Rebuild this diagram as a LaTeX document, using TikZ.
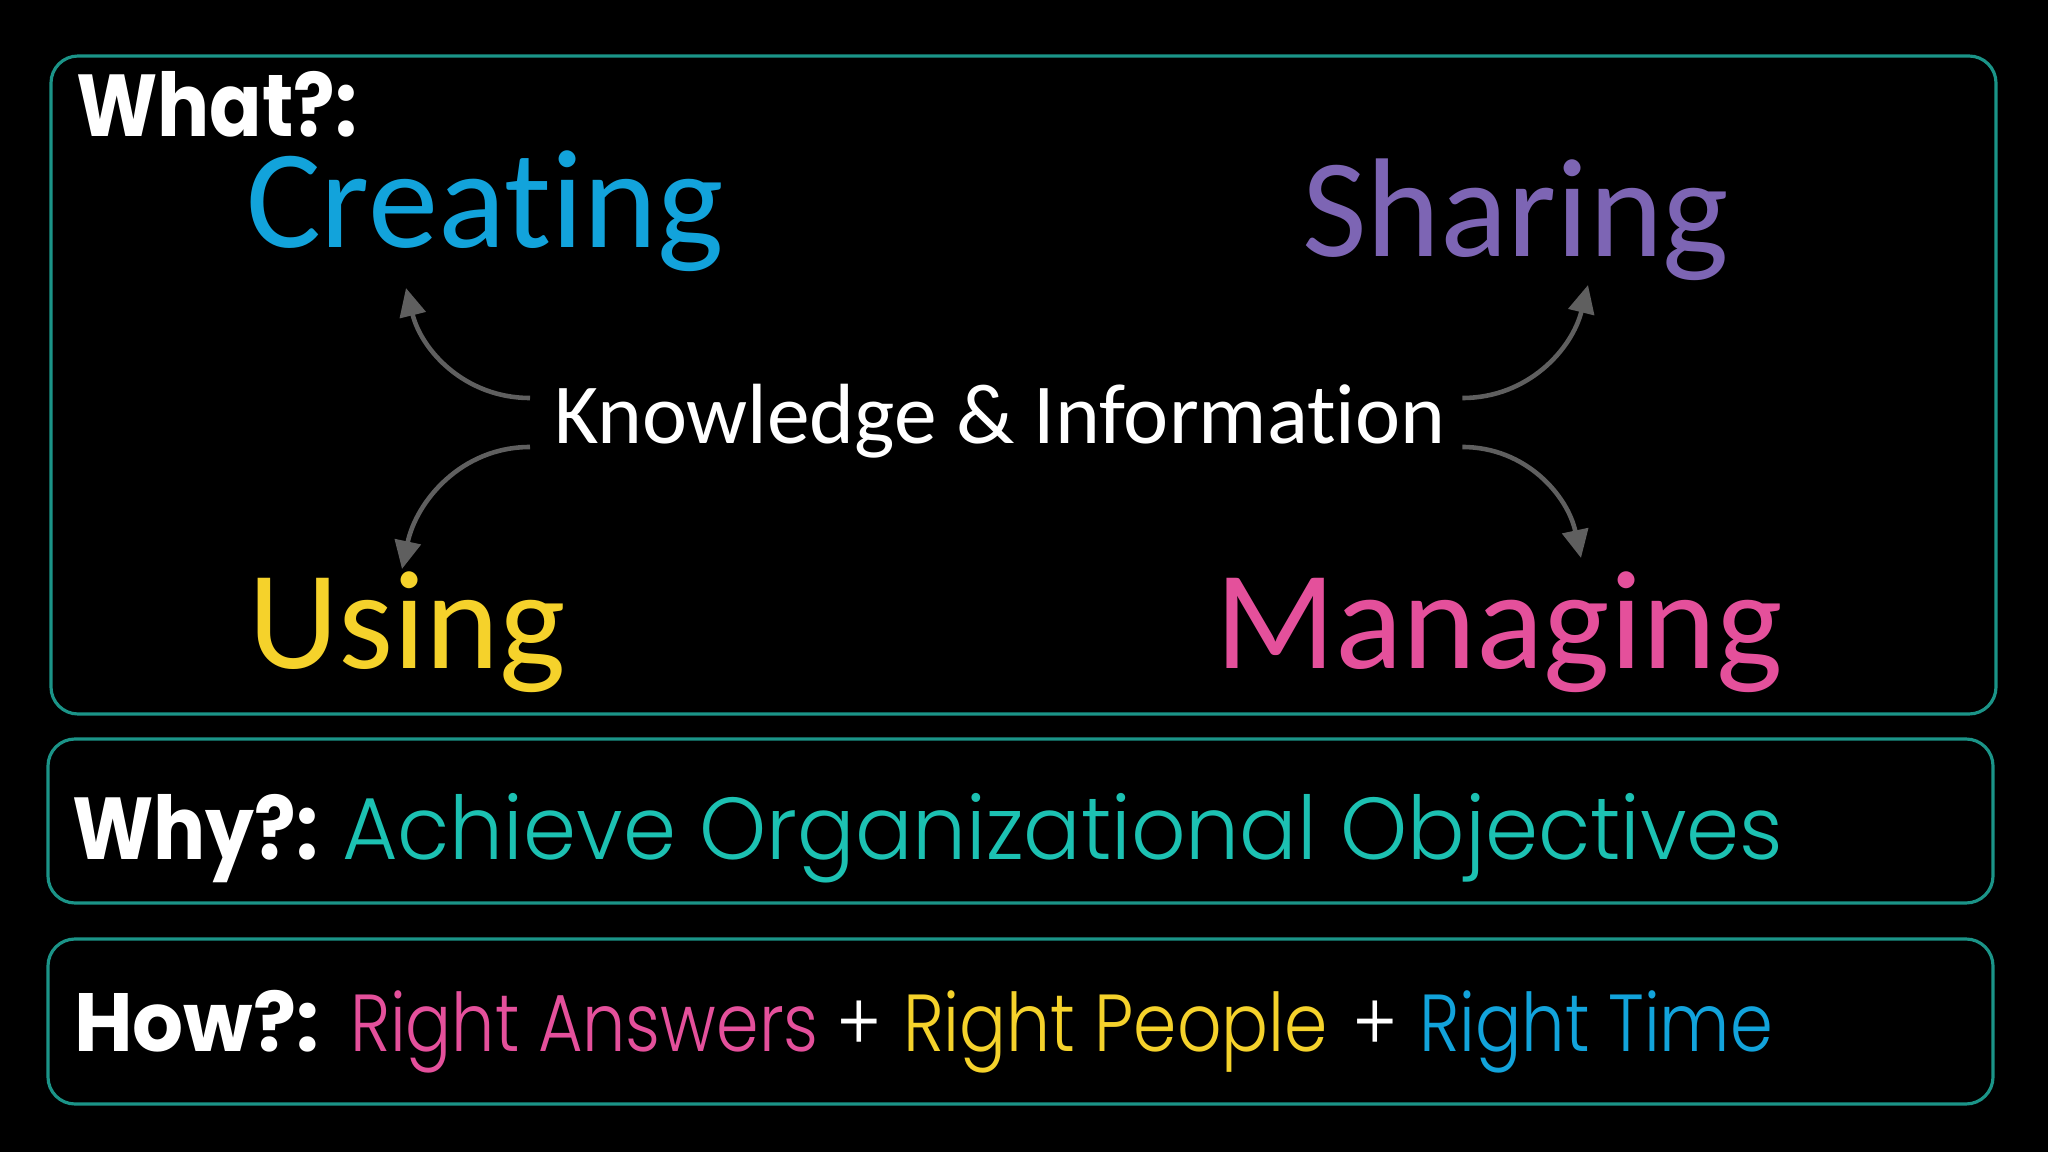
\documentclass[tikz,border=0pt]{standalone}
\usepackage{fontspec}
\setmainfont{Carlito}[Ligatures=NoCommon]
\newfontfamily\gothic{Poppins}
\newfontfamily\gothiclight{Poppins Light}
\usetikzlibrary{arrows.meta,calc}
\definecolor{boxteal}{HTML}{1B9488}
\definecolor{cblue}{HTML}{12A3DB}
\definecolor{cpurple}{HTML}{7D65B4}
\definecolor{cyellow}{HTML}{F5D22B}
\definecolor{cpink}{HTML}{E4509B}
\definecolor{cteal}{HTML}{1CC1B2}
\definecolor{agray}{HTML}{5F5F5F}
\begin{document}
\begin{tikzpicture}[x=0.01cm,y=0.01cm,
  boxline/.style={draw=boxteal,line width=0.9pt,rounded corners=0.27cm},
  txt/.style={anchor=base west,inner sep=0pt,outer sep=0pt},
  head/.style={txt,text=white,font=\gothic\bfseries\addfontfeature{FakeStretch=0.88}\fontsize{25}{30}\selectfont},
  big/.style={txt,text height=0.95cm,font=\fontsize{40}{48}\selectfont},
  rt/.style={txt,font=\gothiclight\addfontfeature{FakeStretch=0.86}\fontsize{23}{28}\selectfont},
  conn/.style={draw=agray,line width=1.3pt,-{Triangle[length=0.28cm,width=0.26cm]}}]
\fill[black] (0,0) rectangle (2048,-1152);
\useasboundingbox (0,0) rectangle (2048,-1152);
% boxes
\draw[boxline] (51,-56) rectangle (1996,-714);
\draw[boxline] (48,-739) rectangle (1993,-903);
\draw[boxline] (48,-939) rectangle (1993,-1104);
% What
\node[head] (what) at (76,-137) {What?:};
\node[big,text=cblue] (creating) at (246,-248) {Creating};
\node[big,text=cpurple] (sharing) at (1302,-257) {Sharing};
\node[big,text=cyellow] (using) at (248,-669) {Using};
\node[big,text=cpink] (managing) at (1215,-669) {Managing};
\node[txt,text=white,font=\fontsize{24.3}{30}\selectfont] (kn) at (554,-444) {Knowledge \& Information};
\coordinate (t1) at (406,-288);
\coordinate (t2) at (402,-569);
\coordinate (t3) at (1588,-285);
\coordinate (t4) at (1581,-558);
\draw[conn] ($(kn.base west)+(-24,46)$) to[out=180,in=-76] (t1);
\draw[conn] ($(kn.base west)+(-24,-3)$) to[out=180,in=78] (t2);
\draw[conn] ($(kn.base east)+(17,46)$) to[out=0,in=-104] (t3);
\draw[conn] ($(kn.base east)+(17,-3)$) to[out=0,in=102] (t4);
% Why
\node[head] (why) at (72,-859) {Why?:};
\node[txt,text=cteal,font=\gothiclight\addfontfeature{FakeStretch=0.97}\fontsize{25}{30}\selectfont] (achieve) at (342,-859) {Achieve Organizational Objectives};
% How
\node[head,font=\gothic\bfseries\addfontfeature{FakeStretch=0.97}\fontsize{23.5}{28}\selectfont] (how) at (74,-1051) {How?:};
\node[rt,text=cpink,font=\gothiclight\addfontfeature{FakeStretch=0.845}\fontsize{23}{28}\selectfont] (ra) at (350,-1051) {Right Answers};
\node[rt,text=white] (p1) at (836,-1051) {+};
\node[rt,text=cyellow] (rp) at (903,-1051) {Right People};
\node[rt,text=white] (p2) at (1352,-1051) {+};
\node[rt,text=cblue,font=\gothiclight\addfontfeature{FakeStretch=0.85}\fontsize{23}{28}\selectfont] (rtime) at (1419,-1051) {Right Time};
\end{tikzpicture}
\end{document}
